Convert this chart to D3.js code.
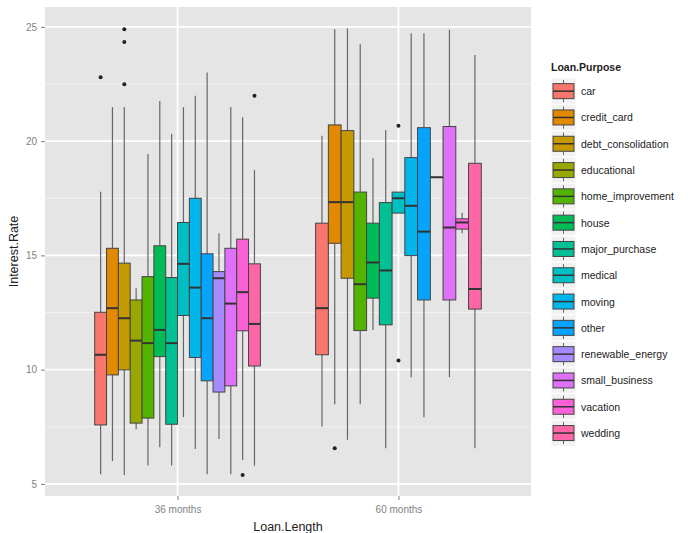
<!DOCTYPE html>
<html>
<head>
<meta charset="utf-8">
<script src="https://cdn.jsdelivr.net/npm/d3@7"></script>
<style>
  body { margin: 0; background: #fff; }
  text { font-family: "Liberation Sans", Arial, sans-serif; }
</style>
</head>
<body>
<div class="chart"></div>
<script>
// Data
const groups = ["36 months", "60 months"];
const purposes = ["car", "credit_card", "debt_consolidation", "educational", "home_improvement",
  "house", "major_purchase", "medical", "moving", "other", "renewable_energy",
  "small_business", "vacation", "wedding"];
const colors = ["#F8766D", "#E38900", "#C49A00", "#99A800", "#53B400", "#00BC56", "#00C094",
  "#00BFC4", "#00B6EB", "#06A4FF", "#A58AFF", "#DF70F8", "#FB61D7", "#FF66A8"];
const yTicks = [5, 10, 15, 20, 25];

// 36 months: [lower whisker, q1, median, q3, upper whisker]
const stats36 = [
  [5.42, 7.58, 10.65, 12.51, 17.79],
  [6.00, 9.77, 12.69, 15.31, 21.49],
  [5.39, 9.99, 12.25, 14.66, 21.49],
  [7.39, 7.66, 11.27, 13.05, 13.56],
  [5.80, 7.88, 11.16, 14.07, 19.44],
  [6.60, 10.57, 11.74, 15.42, 21.76],
  [5.80, 7.61, 11.16, 14.03, 20.32],
  [7.92, 12.37, 14.63, 16.44, 21.49],
  [6.53, 10.53, 13.59, 17.50, 21.99],
  [5.42, 9.51, 12.25, 15.07, 23.00],
  [6.96, 9.02, 14.00, 14.29, 15.97],
  [5.42, 9.29, 12.89, 15.31, 21.49],
  [6.05, 11.70, 13.39, 15.71, 21.05],
  [5.80, 10.16, 12.00, 14.63, 18.74]
];
const outliers36 = [[22.8], [], [22.49, 24.34, 24.9], [], [], [], [], [], [], [], [], [], [5.39], [21.99]];

// 60 months (no educational loans)
const stats60 = [
  [7.51, 10.65, 12.69, 16.41, 20.24],
  [8.49, 15.53, 17.33, 20.71, 24.90],
  [6.93, 14.00, 17.33, 20.46, 24.93],
  null,
  [8.49, 11.71, 13.74, 17.77, 24.24],
  [11.74, 13.13, 14.69, 16.41, 19.25],
  [6.56, 11.96, 14.34, 17.31, 20.49],
  [16.85, 16.85, 17.50, 17.77, 17.77],
  [9.67, 14.99, 17.17, 19.28, 24.72],
  [7.92, 13.05, 16.04, 20.59, 24.72],
  [18.42, 18.42, 18.42, 18.42, 18.42],
  [9.67, 13.05, 16.22, 20.64, 24.87],
  [15.97, 16.15, 16.44, 16.60, 16.87],
  [6.56, 12.65, 13.53, 19.03, 23.77]
];
const outliers60 = [[], [6.56], [], [], [], [], [], [20.67, 10.4], [], [], [], [], [], []];

const svgWidth = 691;
const svgHeight = 533;
const panel = { left: 45, right: 531, top: 7, bottom: 496 };

const svg = d3.select(".chart").append("svg")
  .attr("width", svgWidth)
  .attr("height", svgHeight);

// scales
const y = d3.scaleLinear().domain([4.47, 25.87]).range([panel.bottom, panel.top]);
const x = d3.scalePoint().domain(groups).range([panel.left, panel.right]).padding(0.6);
const color = d3.scaleOrdinal().domain(purposes).range(colors);

// panel background + grid
svg.append("rect")
  .attr("x", panel.left).attr("y", panel.top)
  .attr("width", panel.right - panel.left).attr("height", panel.bottom - panel.top)
  .attr("fill", "#E5E5E5");

const minor = [7.5, 12.5, 17.5, 22.5];
svg.append("g").selectAll("line").data(minor).join("line")
  .attr("x1", panel.left).attr("x2", panel.right)
  .attr("y1", d => y(d)).attr("y2", d => y(d))
  .attr("stroke", "#F2F2F2").attr("stroke-width", 1);
svg.append("g").selectAll("line").data(yTicks).join("line")
  .attr("x1", panel.left).attr("x2", panel.right)
  .attr("y1", d => y(d)).attr("y2", d => y(d))
  .attr("stroke", "#fff").attr("stroke-width", 1.8);
svg.append("g").selectAll("line").data(groups).join("line")
  .attr("x1", d => x(d)).attr("x2", d => x(d))
  .attr("y1", panel.top).attr("y2", panel.bottom)
  .attr("stroke", "#fff").attr("stroke-width", 1.8);

// axes
const leftAxis = d3.axisLeft(y).tickValues(yTicks).tickSize(4).tickPadding(4);
const yAxis = svg.append("g")
  .attr("transform", `translate(${panel.left}, 0)`)
  .call(leftAxis);
const bottomAxis = d3.axisBottom(x).tickSize(4).tickPadding(6);
const xAxis = svg.append("g")
  .attr("transform", `translate(0, ${panel.bottom})`)
  .call(bottomAxis);
[yAxis, xAxis].forEach(a => {
  a.select(".domain").remove();
  a.selectAll(".tick line").attr("stroke", "#7F7F7F");
  a.selectAll(".tick text").attr("fill", "#7F7F7F").style("font-size", "10px");
});

// boxes
const step = x.step();
const boxes = [];
const points = [];
[stats36, stats60].forEach((stats, gi) => {
  const present = purposes.filter((p, i) => stats[i] !== null);
  const cx = x(groups[gi]);
  const inner = d3.scaleBand().domain(present)
    .range([cx - 0.375 * step, cx + 0.375 * step]);
  const outs = gi === 0 ? outliers36 : outliers60;
  purposes.forEach((p, i) => {
    if (stats[i] === null) return;
    const [lo, q1, med, q3, hi] = stats[i];
    const x0 = inner(p);
    const w = inner.bandwidth();
    boxes.push({ p, x0, w, lo, q1, med, q3, hi });
    outs[i].forEach(v => points.push({ x: x0 + w / 2, v }));
  });
});

const boxG = svg.append("g").selectAll("g").data(boxes).join("g");
boxG.append("line")
  .attr("x1", d => d.x0 + d.w / 2).attr("x2", d => d.x0 + d.w / 2)
  .attr("y1", d => y(d.hi)).attr("y2", d => y(d.q3))
  .attr("stroke", "#666").attr("stroke-width", 1.2);
boxG.append("line")
  .attr("x1", d => d.x0 + d.w / 2).attr("x2", d => d.x0 + d.w / 2)
  .attr("y1", d => y(d.q1)).attr("y2", d => y(d.lo))
  .attr("stroke", "#666").attr("stroke-width", 1.2);
boxG.append("rect")
  .attr("x", d => d.x0).attr("width", d => d.w)
  .attr("y", d => y(d.q3)).attr("height", d => y(d.q1) - y(d.q3))
  .attr("fill", d => color(d.p))
  .attr("stroke", "#444").attr("stroke-width", 1);
boxG.append("line")
  .attr("x1", d => d.x0).attr("x2", d => d.x0 + d.w)
  .attr("y1", d => y(d.med)).attr("y2", d => y(d.med))
  .attr("stroke", "#333").attr("stroke-width", 2);

svg.append("g").selectAll("circle").data(points).join("circle")
  .attr("cx", d => d.x).attr("cy", d => y(d.v))
  .attr("r", 2).attr("fill", "#222");

// axis titles
svg.append("text")
  .attr("x", (panel.left + panel.right) / 2).attr("y", 531)
  .attr("text-anchor", "middle").style("font-size", "12.5px").attr("fill", "#222")
  .text("Loan.Length");
svg.append("text")
  .attr("transform", `translate(18, ${(panel.top + panel.bottom) / 2}) rotate(-90)`)
  .attr("text-anchor", "middle").style("font-size", "12.5px").attr("fill", "#222")
  .text("Interest.Rate");

// legend
const legend = svg.append("g").attr("transform", "translate(551, 0)");
legend.append("text")
  .attr("x", 0).attr("y", 71)
  .style("font-size", "10.5px").style("font-weight", "bold").attr("fill", "#222")
  .text("Loan.Purpose");
const keyH = 26.3;
const item = legend.selectAll("g.item").data(purposes).join("g")
  .attr("class", "item")
  .attr("transform", (d, i) => `translate(0, ${78 + i * keyH})`);
item.append("rect")
  .attr("x", 0).attr("y", 0).attr("width", 25).attr("height", keyH)
  .attr("fill", "#F2F2F2").attr("stroke", "#fff").attr("stroke-width", 1);
item.append("line")
  .attr("x1", 12.5).attr("x2", 12.5).attr("y1", 2).attr("y2", keyH - 2)
  .attr("stroke", "#666");
item.append("rect")
  .attr("x", 2).attr("y", keyH / 2 - 7.5).attr("width", 21).attr("height", 15)
  .attr("fill", d => color(d)).attr("stroke", "#444");
item.append("line")
  .attr("x1", 2).attr("x2", 23).attr("y1", keyH / 2).attr("y2", keyH / 2)
  .attr("stroke", "#333").attr("stroke-width", 1.5);
item.append("text")
  .attr("x", 30).attr("y", keyH / 2 + 4)
  .style("font-size", "10.5px").attr("fill", "#222")
  .text(d => d);
</script>
</body>
</html>
